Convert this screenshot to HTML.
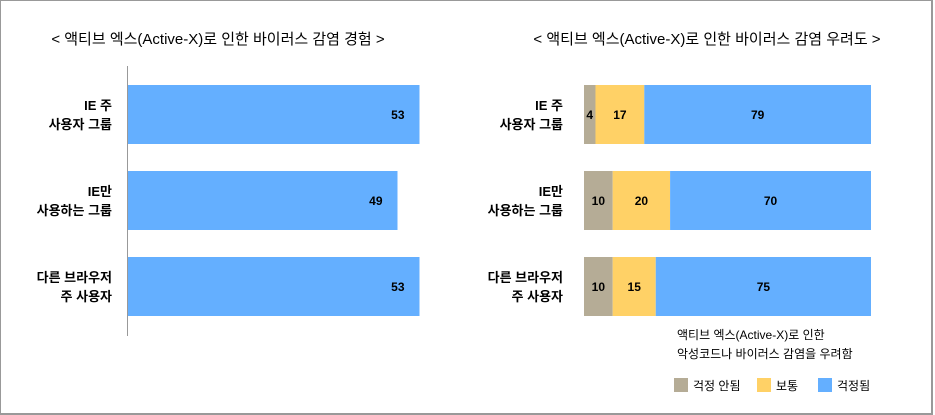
<!DOCTYPE html>
<html><head><meta charset="utf-8"><style>
body{margin:0;width:935px;height:415px;background:#fff;overflow:hidden;font-family:"Liberation Sans","Noto Sans CJK KR",sans-serif}
#frame{position:absolute;left:0;top:0;width:930px;height:412px;border:1px solid #999;border-width:1px 2px 2px 1px}
</style></head><body>
<div id="frame"></div>
<svg width="935" height="415" style="position:absolute;left:0;top:0">
<text x="218" y="44" text-anchor="middle" font-size="15" fill="#000" font-family="Liberation Sans, Noto Sans CJK KR, sans-serif">&lt; 액티브 엑스(Active-X)로 인한 바이러스 감염 경험 &gt;</text>
<text x="707" y="44" text-anchor="middle" font-size="15" fill="#000" font-family="Liberation Sans, Noto Sans CJK KR, sans-serif">&lt; 액티브 엑스(Active-X)로 인한 바이러스 감염 우려도 &gt;</text>
<line x1="127.5" y1="66" x2="127.5" y2="336" stroke="#999"/>
<g id="left"></g><g id="right"></g>
<text x="677" y="339" font-size="12" font-family="Liberation Sans, Noto Sans CJK KR, sans-serif">액티브 엑스(Active-X)로 인한</text>
<text x="677" y="358" font-size="12" font-family="Liberation Sans, Noto Sans CJK KR, sans-serif">악성코드나 바이러스 감염을 우려함</text>
<g id="legend"></g>
</svg>
<script>
const categories=[["IE 주","사용자 그룹"],["IE만","사용하는 그룹"],["다른 브라우저","주 사용자"]];
const leftValues=[53,49,53];
const notWorried=[4,10,10];
const neutral=[17,20,15];
const worried=[79,70,75];
const seriesNames=["걱정 안됨","보통","걱정됨"];
const colors=["#B5AC96","#FFD166","#64AFFF"];
const NS="http://www.w3.org/2000/svg";
const bandY=i=>85+i*86, bandH=59;
const xL=v=>128+v*5.5;
const xR=v=>584+v*2.87;
function mk(tag,attrs,parent){const e=document.createElementNS(NS,tag);for(const k in attrs)e.setAttribute(k,attrs[k]);parent.appendChild(e);return e;}
const L=document.getElementById('left'),R=document.getElementById('right'),G=document.getElementById('legend');
categories.forEach((c,i)=>{
  [[L,112],[R,563]].forEach(([p,x],side)=>{
    c.forEach((line,j)=>{
      const t=mk('text',{x:x,y:bandY(i)+25+j*19,'text-anchor':'end','font-size':13,'font-weight':'bold'},p);
      
      
      t.textContent=line;
    });
  });
  const b=mk('rect',{x:xL(0),y:bandY(i),width:xL(leftValues[i])-xL(0),height:bandH,fill:colors[2]},L);
  
  
  const t=mk('text',{x:xL(leftValues[i])-15,y:bandY(i)+34,'text-anchor':'end','font-size':12,'font-weight':'bold'},L);
  
  
  t.textContent=leftValues[i];
  let acc=0;
  [notWorried[i],neutral[i],worried[i]].forEach((v,s)=>{
    const r=mk('rect',{x:xR(acc),y:bandY(i),width:xR(acc+v)-xR(acc),height:bandH,fill:colors[s]},R);
    
    
    const tt=mk('text',{x:(xR(acc)+xR(acc+v))/2,y:bandY(i)+34,'text-anchor':'middle','font-size':12,'font-weight':'bold'},R);
    
    
    tt.textContent=v;
    acc+=v;
  });
});
const legX=[674,757,818];
seriesNames.forEach((n,s)=>{
  const r=mk('rect',{x:legX[s],y:378,width:14,height:14,fill:colors[s]},G);
  
  
  const t=mk('text',{x:legX[s]+19,y:390,'font-size':12},G);
  
  
  t.textContent=n;
});
</script>
</body></html>
